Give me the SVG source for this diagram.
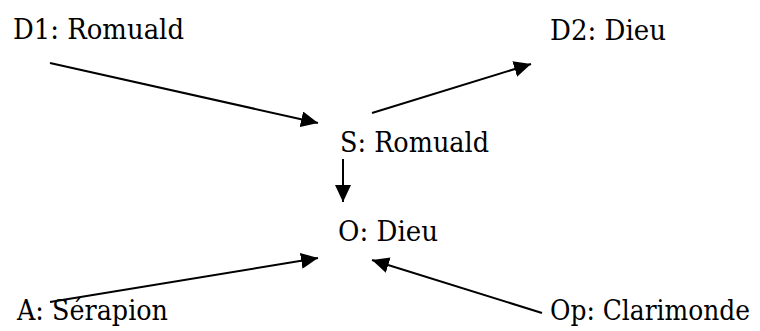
<svg xmlns="http://www.w3.org/2000/svg" width="760" height="331" viewBox="0 0 760 331">
<style>
.t { font-family: "DejaVu Serif", "Liberation Serif", serif; font-size: 27px; fill: #000; }
.c line { stroke: #000; stroke-width: 2; fill: none; }
</style>
<defs>
<marker id="ah" markerUnits="userSpaceOnUse" markerWidth="18" markerHeight="16" refX="17" refY="8" orient="auto" viewBox="0 0 18 16">
<path d="M0,0 L17,8 L0,16 z" fill="#000"/>
</marker>
</defs>
<rect width="760" height="331" fill="#fff"/>
<g id="d1"><text class="t" x="13" y="39" textLength="171" lengthAdjust="spacingAndGlyphs">D1: Romuald</text></g>
<g id="d2"><text class="t" x="550" y="40" textLength="116" lengthAdjust="spacingAndGlyphs">D2: Dieu</text></g>
<g id="s"><text class="t" x="340" y="152" textLength="149" lengthAdjust="spacingAndGlyphs">S: Romuald</text></g>
<g id="o"><text class="t" x="338" y="241" textLength="100" lengthAdjust="spacingAndGlyphs">O: Dieu</text></g>
<g id="a"><text class="t" x="17" y="320" textLength="151" lengthAdjust="spacingAndGlyphs">A: Sérapion</text></g>
<g id="op"><text class="t" x="550" y="320" textLength="200" lengthAdjust="spacingAndGlyphs">Op: Clarimonde</text></g>
<g class="c" id="connectors">
<line x1="50" y1="302" x2="318" y2="258" marker-end="url(#ah)"/>
<line x1="50" y1="63" x2="318" y2="123" marker-end="url(#ah)"/>
<line x1="372" y1="113" x2="531" y2="64" marker-end="url(#ah)"/>
<line x1="343" y1="159" x2="343" y2="202" marker-end="url(#ah)"/>
<line x1="542" y1="313" x2="372" y2="260" marker-end="url(#ah)"/>
</g>
</svg>
